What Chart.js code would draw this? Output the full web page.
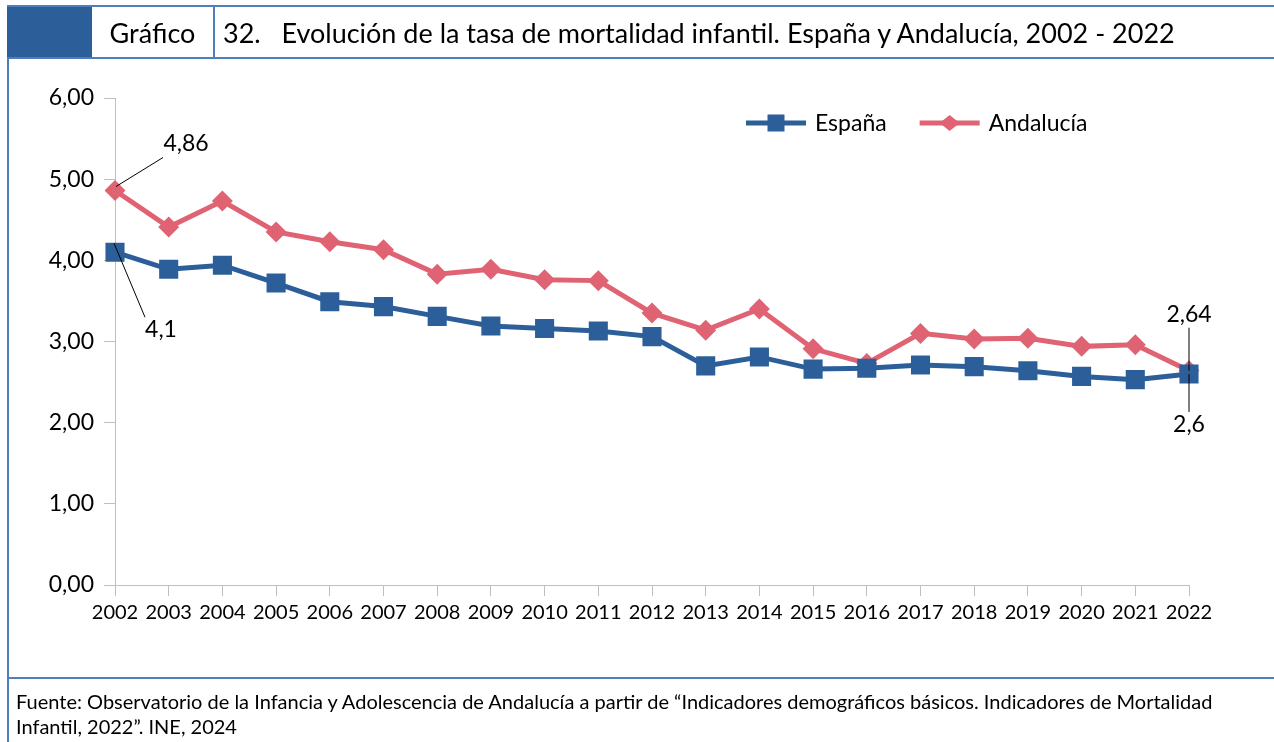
<!DOCTYPE html>
<html lang="es">
<head>
<meta charset="utf-8">
<title>Evolución de la tasa de mortalidad infantil</title>
<script src="https://cdn.jsdelivr.net/npm/chart.js@4/dist/chart.umd.min.js"></script>
<style>
  html, body { margin: 0; padding: 0; background: #fff; }
  body { width: 1274px; height: 742px; position: relative; overflow: hidden; font-family: Lato, "Open Sans", sans-serif; color: #000; }
  #chart { position: absolute; left: 0; top: 0; }
  .rule { position: absolute; background: #4E7FBC; }
  #hdrTop { left: 7px; top: 5px; width: 1267px; height: 2px; }
  #hdrBottom { left: 7px; top: 57px; width: 1267px; height: 2px; }
  #hdrBox { position: absolute; left: 7px; top: 5px; width: 85px; height: 54px; background: #2C5E99; }
  #hdrSep { left: 213px; top: 5px; width: 2px; height: 54px; }
  #leftEdge { left: 7px; top: 57px; width: 2px; height: 685px; }
  #footRule { left: 7px; top: 677px; width: 1267px; height: 2px; }
  #kind { position: absolute; left: 92px; width: 121px; top: 7px; height: 50px; line-height: 52px; text-align: center; font-size: 27px; }
  #title { position: absolute; left: 223px; top: 7px; height: 50px; line-height: 52px; font-size: 27px; white-space: pre; }
  #source { position: absolute; left: 16px; top: 689px; width: 1250px; font-size: 20px; line-height: 25px; white-space: nowrap; }
</style>
</head>
<body>
<canvas id="chart" width="1274" height="742"></canvas>
<div id="hdrBox"></div>
<div class="rule" id="hdrTop"></div>
<div class="rule" id="hdrBottom"></div>
<div class="rule" id="hdrSep"></div>
<div class="rule" id="leftEdge"></div>
<div class="rule" id="footRule"></div>
<div id="kind">Gráfico</div>
<div id="title">32.   Evolución de la tasa de mortalidad infantil. España y Andalucía, 2002 - 2022</div>
<div id="source">Fuente: Observatorio de la Infancia y Adolescencia de Andalucía a partir de “Indicadores demográficos básicos. Indicadores de Mortalidad<br>Infantil, 2022”. INE, 2024</div>

<script>
// Years on the category axis
const years = ['2002','2003','2004','2005','2006','2007','2008','2009','2010','2011',
               '2012','2013','2014','2015','2016','2017','2018','2019','2020','2021','2022'];

// Infant mortality rate (deaths per 1,000 live births)
const espana = [4.1, 3.89, 3.94, 3.72, 3.49, 3.43, 3.31, 3.19, 3.16, 3.13,
                3.06, 2.70, 2.81, 2.66, 2.67, 2.71, 2.69, 2.64, 2.57, 2.53, 2.6];
const andalucia = [4.86, 4.41, 4.73, 4.35, 4.23, 4.13, 3.83, 3.89, 3.76, 3.75,
                   3.35, 3.14, 3.40, 2.91, 2.73, 3.10, 3.03, 3.04, 2.94, 2.96, 2.64];

// Value axis ticks
const yTicks = [0, 1, 2, 3, 4, 5, 6];

const seriesNames = ['España', 'Andalucía'];

const BLUE = '#2C5F9A';
const RED = '#E06373';
const AXIS = '#BFBFBF';
const FONT = 'Lato, "Open Sans", sans-serif';

const fmtTick = v => v.toFixed(2).replace('.', ',');
const fmtLabel = v => String(v).replace('.', ',');

// Callouts for first and last points: [dataset, index, leader start, leader end, text centre]
const callouts = [
  { ds: 1, i: 0, from: [1, -4], to: [48, -33], text: [71, -47] },
  { ds: 0, i: 0, from: [-1, -9], to: [30, 65], text: [46, 77] },
  { ds: 1, i: 20, from: [0, 0], to: [0, -43], text: [0, -56] },
  { ds: 0, i: 20, from: [0, 0], to: [0, 38], text: [0, 51] }
];

const calloutPlugin = {
  id: 'callouts',
  afterDatasetsDraw(chart) {
    const ctx = chart.ctx;
    ctx.save();
    ctx.font = '23px ' + FONT;
    ctx.fillStyle = '#000';
    ctx.strokeStyle = '#000';
    ctx.lineWidth = 1;
    ctx.textAlign = 'center';
    ctx.textBaseline = 'middle';
    callouts.forEach(c => {
      const pt = chart.getDatasetMeta(c.ds).data[c.i];
      const value = chart.data.datasets[c.ds].data[c.i];
      ctx.beginPath();
      ctx.moveTo(pt.x + c.from[0], pt.y + c.from[1]);
      ctx.lineTo(pt.x + c.to[0], pt.y + c.to[1]);
      ctx.stroke();
      ctx.fillText(fmtLabel(value), pt.x + c.text[0], pt.y + c.text[1]);
    });
    ctx.restore();
  }
};

// Legend drawn inside the plot, upper right
const legendPlugin = {
  id: 'insetLegend',
  afterDraw(chart) {
    const ctx = chart.ctx;
    ctx.save();
    ctx.font = '23px ' + FONT;
    ctx.textBaseline = 'middle';
    ctx.textAlign = 'left';
    let x = 746;
    const y = 123;
    chart.data.datasets.forEach(ds => {
      ctx.strokeStyle = ds.borderColor;
      ctx.lineWidth = 5;
      ctx.beginPath();
      ctx.moveTo(x, y);
      ctx.lineTo(x + 60, y);
      ctx.stroke();
      ctx.fillStyle = ds.borderColor;
      ctx.beginPath();
      if (ds.pointStyle === 'rect') {
        ctx.rect(x + 30 - 8.5, y - 8.5, 17, 17);
      } else {
        ctx.moveTo(x + 30 - 10, y);
        ctx.lineTo(x + 30, y - 8);
        ctx.lineTo(x + 30 + 10, y);
        ctx.lineTo(x + 30, y + 8);
        ctx.closePath();
      }
      ctx.fill();
      ctx.fillStyle = '#000';
      ctx.fillText(ds.label, x + 69, y + 1);
      x += 69 + ctx.measureText(ds.label).width + 33;
    });
    ctx.restore();
  }
};

new Chart(document.getElementById('chart'), {
  type: 'line',
  data: {
    labels: years,
    datasets: [
      {
        label: seriesNames[0],
        data: espana,
        borderColor: BLUE,
        backgroundColor: BLUE,
        borderWidth: 5,
        pointStyle: 'rect',
        pointRadius: 13.5,
        pointBorderWidth: 0,
        pointHoverRadius: 13.5,
        tension: 0
      },
      {
        label: seriesNames[1],
        data: andalucia,
        borderColor: RED,
        backgroundColor: RED,
        borderWidth: 5,
        pointStyle: 'rectRot',
        pointRadius: 10.5,
        pointBorderWidth: 0,
        pointHoverRadius: 10.5,
        tension: 0
      }
    ]
  },
  options: {
    responsive: false,
    animation: false,
    events: [],
    layout: { padding: { top: 98, right: 85, bottom: 0, left: 0 } },
    plugins: {
      legend: { display: false },
      tooltip: { enabled: false },
      title: { display: false }
    },
    scales: {
      x: {
        offset: false,
        grid: { display: true, drawOnChartArea: false, drawTicks: true, tickLength: 11, color: AXIS, lineWidth: 1 },
        border: { display: true, color: AXIS, width: 1 },
        ticks: { color: '#000', font: { family: FONT, size: 20 }, padding: 5, autoSkip: false, maxRotation: 0 },
        afterFit(scale) { scale.height = 157; }
      },
      y: {
        min: 0,
        max: 6,
        afterBuildTicks(scale) { scale.ticks = yTicks.map(v => ({ value: v })); },
        grid: { display: true, drawOnChartArea: false, drawTicks: true, tickLength: 11, color: AXIS, lineWidth: 1 },
        border: { display: true, color: AXIS, width: 1 },
        ticks: { color: '#000', font: { family: FONT, size: 23 }, padding: 10, callback: v => fmtTick(v) },
        afterFit(scale) { scale.width = 115; }
      }
    }
  },
  plugins: [calloutPlugin, legendPlugin]
});
</script>
</body>
</html>
